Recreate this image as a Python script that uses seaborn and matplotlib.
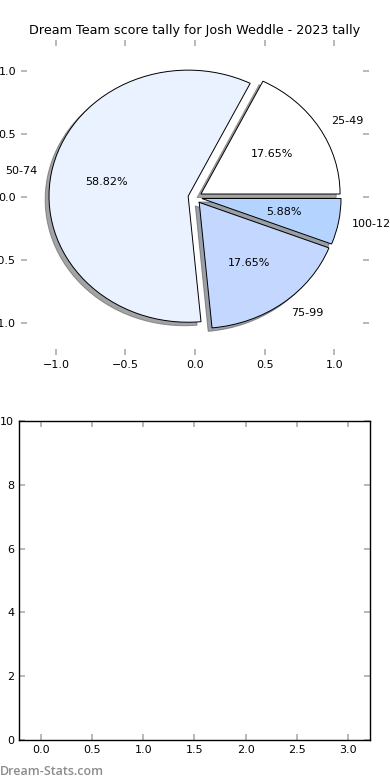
import numpy as np
import matplotlib
matplotlib.use('Agg')
import matplotlib.pyplot as plt
import seaborn as sns

# score bands and number of games in each
bands = ['25-49', '50-74', '75-99', '100-124']
games = [3, 10, 3, 1]
slice_colors = ['#ffffff', '#eaf1ff', '#c4d8ff', '#b4d4ff']
explode = [0.05, 0.05, 0.05, 0.05]

title = 'Dream Team score tally for Josh Weddle - 2023 tally'

sns.set_theme(style='white')
plt.rcParams['font.family'] = ['DejaVu Sans']
plt.rcParams['text.color'] = 'black'
plt.rcParams['xtick.direction'] = 'in'
plt.rcParams['ytick.direction'] = 'in'
plt.rcParams['xtick.color'] = '#b0b0b0'
plt.rcParams['ytick.color'] = '#b0b0b0'
plt.rcParams['xtick.labelcolor'] = 'black'
plt.rcParams['ytick.labelcolor'] = 'black'
plt.rcParams['xtick.labelsize'] = 8
plt.rcParams['ytick.labelsize'] = 8
plt.rcParams['xtick.major.size'] = 4
plt.rcParams['ytick.major.size'] = 4
plt.rcParams['xtick.top'] = True
plt.rcParams['ytick.right'] = True
plt.rcParams['xtick.bottom'] = True
plt.rcParams['ytick.left'] = True

fig = plt.figure(figsize=(3.9, 7.8), dpi=100)

# pie on top
ax1 = fig.add_axes([0.054, 0.545, 0.892, 0.404])
wedges, texts, autotexts = ax1.pie(games, labels=bands, colors=slice_colors,
                                   explode=explode, autopct='%.2f%%', shadow=True,
                                   startangle=0, frame=False,
                                   wedgeprops={'edgecolor': 'black', 'linewidth': 0.7},
                                   textprops={'fontsize': 8, 'color': 'black'})
ax1.set_aspect('auto')
ax1.set_xlim(-1.25, 1.25)
ax1.set_ylim(-1.25, 1.25)
ax1.set_xticks(np.arange(-1.0, 1.01, 0.5))
ax1.set_yticks(np.arange(-1.0, 1.01, 0.5))
ax1.set_title(title, fontsize=9.2, pad=4, color='black')

# empty panel below
ax2 = fig.add_axes([0.0487, 0.0513, 0.9, 0.409])
ax2.set_xlim(-0.22, 3.22)
ax2.set_ylim(0, 10)
ax2.set_xticks(np.arange(0, 3.01, 0.5))
ax2.set_yticks(np.arange(0, 10.1, 2))
for s in ax2.spines.values():
    s.set_color('black')
    s.set_linewidth(1.0)

fig.text(0.0, 0.006, 'Dream-Stats.com', color='#8c8c8c', fontsize=9,
         fontweight='semibold', family='Open Sans')

fig.savefig('out.png', dpi=100)
